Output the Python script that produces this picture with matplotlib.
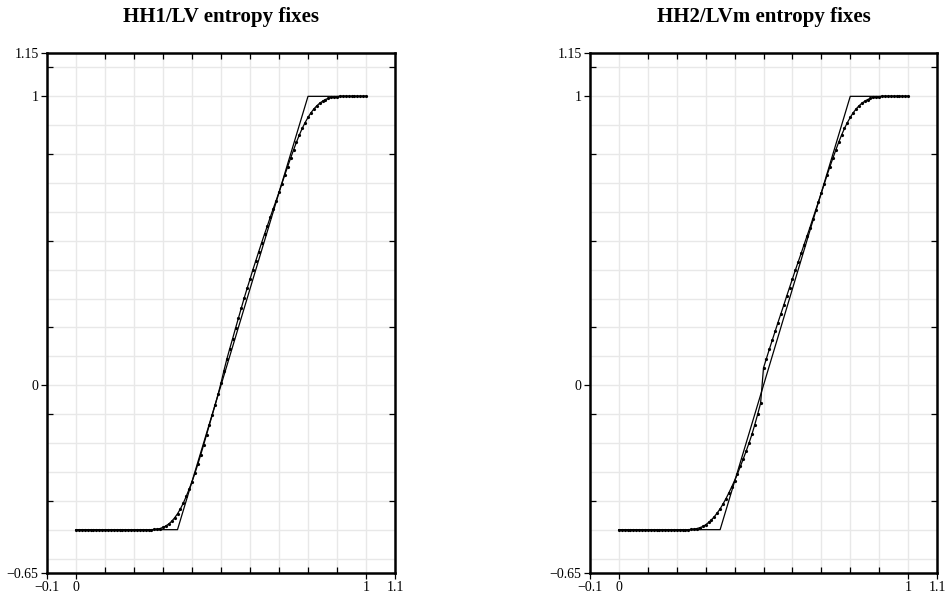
import numpy as np
import matplotlib.pyplot as plt
from matplotlib.ticker import FixedLocator

plt.rcParams['font.family'] = ['Liberation Serif', 'DejaVu Serif']
plt.rcParams['axes.unicode_minus'] = True

titles = ["HH1/LV entropy fixes", "HH2/LVm entropy fixes"]

# exact rarefaction (piecewise linear)
exact_x = [0.0, 0.35, 0.8, 1.0]
exact_u = [-0.5, -0.5, 1.0, 1.0]

# numerical solution on 101 nodes, x = 0.00 ... 1.00
x_nodes = np.linspace(0.0, 1.0, 101)

u_hh1 = ([-0.5] * 27 + [
    -0.499, -0.498, -0.496, -0.492, -0.487, -0.480, -0.471, -0.459, -0.445, -0.428,
    -0.408, -0.385, -0.360, -0.334, -0.305, -0.274, -0.241, -0.207, -0.172, -0.137,
    -0.102, -0.067, -0.031, 0.008, 0.050, 0.090, 0.126, 0.161, 0.197, 0.232,
    0.267, 0.302, 0.335, 0.367, 0.400, 0.431, 0.462, 0.493, 0.523, 0.552,
    0.582, 0.611, 0.639, 0.668, 0.698, 0.728, 0.757, 0.786, 0.814, 0.841,
    0.866, 0.889, 0.909, 0.927, 0.943, 0.956, 0.967, 0.976, 0.983, 0.989,
    0.993, 0.996, 0.998, 0.999] + [1.0] * 10)

u_hh2 = ([-0.5] * 25 + [
    -0.499, -0.498, -0.496, -0.493, -0.489, -0.483, -0.475, -0.466, -0.455, -0.442,
    -0.428, -0.411, -0.393, -0.373, -0.352, -0.330, -0.307, -0.281, -0.255, -0.228,
    -0.200, -0.170, -0.136, -0.100, -0.062, 0.060, 0.092, 0.124, 0.155, 0.186,
    0.217, 0.247, 0.277, 0.308, 0.338, 0.368, 0.398, 0.427, 0.456, 0.486,
    0.515, 0.544, 0.575, 0.605, 0.635, 0.666, 0.696, 0.728, 0.757, 0.786,
    0.814, 0.841, 0.866, 0.889, 0.909, 0.927, 0.943, 0.956, 0.967, 0.976,
    0.983, 0.989, 0.993, 0.996, 0.998, 0.999] + [1.0] * 10)

x_labels = [-0.1, 0, 1, 1.1]
y_labels = [-0.65, 0, 1, 1.15]
x_minor = [0.1 * k for k in range(0, 11)]
y_minor = [-0.4, -0.1, 0.2, 0.5, 0.8, 1.1]

fig = plt.figure(figsize=(9.47, 5.98), dpi=100)
positions = [[47 / 947, 25 / 598, 348 / 947, 520 / 598],
             [590 / 947, 25 / 598, 347 / 947, 520 / 598]]

for pos, title, u in zip(positions, titles, [u_hh1, u_hh2]):
    ax = fig.add_axes(pos)
    ax.set_xlim(-0.1, 1.1)
    ax.set_ylim(-0.65, 1.15)

    # light grid every 0.1
    for gx in np.arange(0.0, 1.01, 0.1):
        ax.axvline(gx, color='#e8e8e8', lw=1.0, zorder=0)
    for gy in np.arange(-0.6, 1.11, 0.1):
        ax.axhline(gy, color='#e8e8e8', lw=1.0, zorder=0)

    ax.plot(exact_x, exact_u, color='black', lw=0.9, zorder=2)
    ax.plot(x_nodes, u, color='black', lw=0.9, marker='o', ms=2.3,
            markeredgewidth=0, zorder=3)

    for s in ax.spines.values():
        s.set_linewidth(1.8)

    ax.set_xticks(x_labels)
    ax.set_xticklabels(['\u22120.1', '0', '1', '1.1'])
    ax.set_yticks(y_labels)
    ax.set_yticklabels(['\u22120.65', '0', '1', '1.15'])
    ax.xaxis.set_minor_locator(FixedLocator(x_minor))
    ax.yaxis.set_minor_locator(FixedLocator(y_minor))
    ax.tick_params(which='major', direction='out', length=4, width=0.9,
                   labelsize=10, pad=2, top=False, right=False)
    ax.tick_params(which='minor', direction='in', length=4, width=0.9,
                   top=True, right=True)

    ax.set_title(title, fontsize=15, fontweight='bold', pad=22)

fig.savefig("out.png", dpi=100)
